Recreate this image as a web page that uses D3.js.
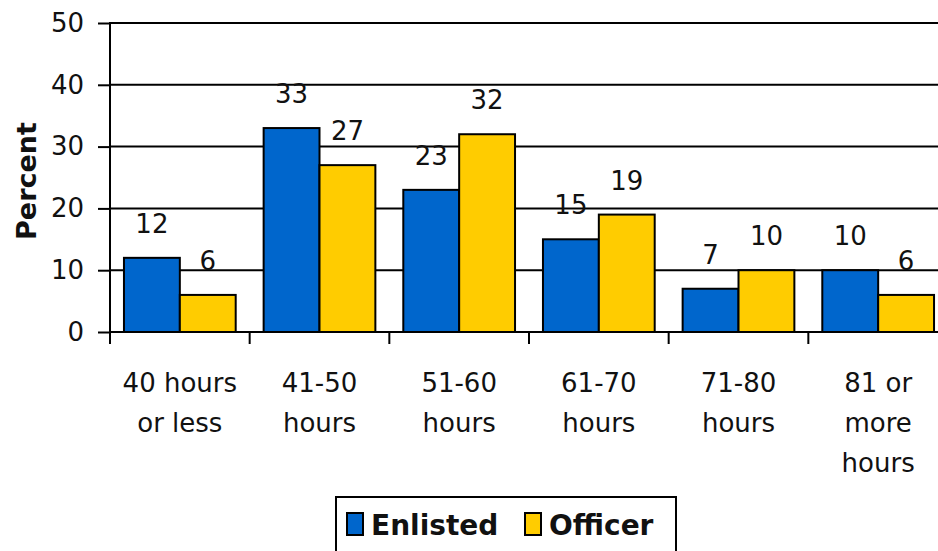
<!DOCTYPE html>
<html>
<head>
<meta charset="utf-8">
<script src="https://cdn.jsdelivr.net/npm/d3@7"></script>
<style>
  body { margin: 0; background: #fff; }
  svg { display: block; font-family: "DejaVu Sans", Verdana, sans-serif; }
</style>
</head>
<body>
<svg width="938" height="551"></svg>
<script>
// hours worked per week, percent by rank
var categories = [["40 hours", "or less"], ["41-50", "hours"], ["51-60", "hours"],
                  ["61-70", "hours"], ["71-80", "hours"], ["81 or", "more", "hours"]];
var seriesNames = ["Enlisted", "Officer"];
var enlisted = [12, 33, 23, 15, 7, 10];
var officer = [6, 27, 32, 19, 10, 6];
var yTicks = [0, 10, 20, 30, 40, 50];

var colors = {Enlisted: "#0066CC", Officer: "#FFCC00"};

var svg = d3.select("svg");

var x0 = d3.scaleBand()
    .domain(d3.range(categories.length))
    .range([110, 948]);

var x1 = d3.scaleBand()
    .domain(seriesNames)
    .range([0, x0.bandwidth()])
    .paddingOuter(0.25);

var y = d3.scaleLinear()
    .domain([0, 50])
    .range([332, 23]);

// gridlines
svg.append("g")
  .selectAll("line")
  .data(yTicks.filter(function(d) { return d > 0; }))
  .enter().append("line")
    .attr("x1", 110)
    .attr("x2", 948)
    .attr("y1", function(d) { return y(d); })
    .attr("y2", function(d) { return y(d); })
    .attr("stroke", "#000")
    .attr("stroke-width", 2);

// y axis
var yAxis = svg.append("g")
    .attr("transform", "translate(110,0)")
    .call(d3.axisLeft(y).tickValues(yTicks).tickSize(12).tickPadding(14));
yAxis.select(".domain").remove();
yAxis.selectAll(".tick line").attr("stroke", "#000").attr("stroke-width", 2);
yAxis.selectAll(".tick text")
    .attr("font-size", 26)
    .attr("fill", "#111")
    .attr("font-family", "DejaVu Sans");

svg.append("line")
    .attr("x1", 110).attr("x2", 110)
    .attr("y1", y(50) - 1).attr("y2", 344)
    .attr("stroke", "#000").attr("stroke-width", 2);

// bars
var rows = categories.map(function(c, i) {
  return [{key: "Enlisted", value: enlisted[i]}, {key: "Officer", value: officer[i]}];
});

var groups = svg.append("g")
  .selectAll("g")
  .data(rows)
  .enter().append("g")
    .attr("transform", function(d, i) { return "translate(" + x0(i) + ",0)"; });

groups.selectAll("rect")
  .data(function(d) { return d; })
  .enter().append("rect")
    .attr("x", function(d) { return x1(d.key); })
    .attr("y", function(d) { return y(d.value); })
    .attr("width", x1.bandwidth())
    .attr("height", function(d) { return y(0) - y(d.value); })
    .attr("fill", function(d) { return colors[d.key]; })
    .attr("stroke", "#000")
    .attr("stroke-width", 2);

// value labels
groups.selectAll("text.val")
  .data(function(d) { return d; })
  .enter().append("text")
    .attr("class", "val")
    .attr("x", function(d) { return x1(d.key) + x1.bandwidth() / 2; })
    .attr("y", function(d) { return y(d.value) - 25; })
    .attr("text-anchor", "middle")
    .attr("font-size", 26)
    .attr("fill", "#111")
    .text(function(d) { return d.value; });

// x axis line + ticks
svg.append("line")
    .attr("x1", 110).attr("x2", 948)
    .attr("y1", y(0)).attr("y2", y(0))
    .attr("stroke", "#000").attr("stroke-width", 2);

svg.append("g")
  .selectAll("line")
  .data(d3.range(1, categories.length + 1))
  .enter().append("line")
    .attr("x1", function(i) { return 110 + i * x0.step(); })
    .attr("x2", function(i) { return 110 + i * x0.step(); })
    .attr("y1", y(0))
    .attr("y2", 344)
    .attr("stroke", "#000").attr("stroke-width", 2);

// category labels
var cat = svg.append("g")
  .selectAll("text")
  .data(categories)
  .enter().append("text")
    .attr("text-anchor", "middle")
    .attr("font-size", 26)
    .attr("fill", "#111")
    .attr("transform", function(d, i) { return "translate(" + (x0(i) + x0.bandwidth() / 2) + ",392)"; });
cat.selectAll("tspan")
  .data(function(d) { return d; })
  .enter().append("tspan")
    .attr("x", 0)
    .attr("y", function(d, j) { return j * 40; })
    .text(function(d) { return d; });

// y title
svg.append("text")
    .attr("transform", "translate(36,181) rotate(-90)")
    .attr("text-anchor", "middle")
    .attr("font-size", 27)
    .attr("font-weight", "bold")
    .attr("fill", "#111")
    .text("Percent");

// legend
var legend = svg.append("g");
legend.append("rect")
    .attr("x", 336).attr("y", 497)
    .attr("width", 340).attr("height", 70)
    .attr("fill", "#fff")
    .attr("stroke", "#000").attr("stroke-width", 2);

var legendX = [347, 525];
var items = legend.selectAll("g.item")
  .data(seriesNames)
  .enter().append("g")
    .attr("class", "item")
    .attr("transform", function(d, i) { return "translate(" + legendX[i] + ",0)"; });
items.append("rect")
    .attr("x", 0).attr("y", 513)
    .attr("width", 16).attr("height", 22)
    .attr("fill", function(d) { return colors[d]; })
    .attr("stroke", "#000").attr("stroke-width", 2);
items.append("text")
    .attr("x", 24).attr("y", 535)
    .attr("font-size", 28)
    .attr("font-weight", "bold")
    .attr("fill", "#111")
    .text(function(d) { return d; });
</script>
</body>
</html>
